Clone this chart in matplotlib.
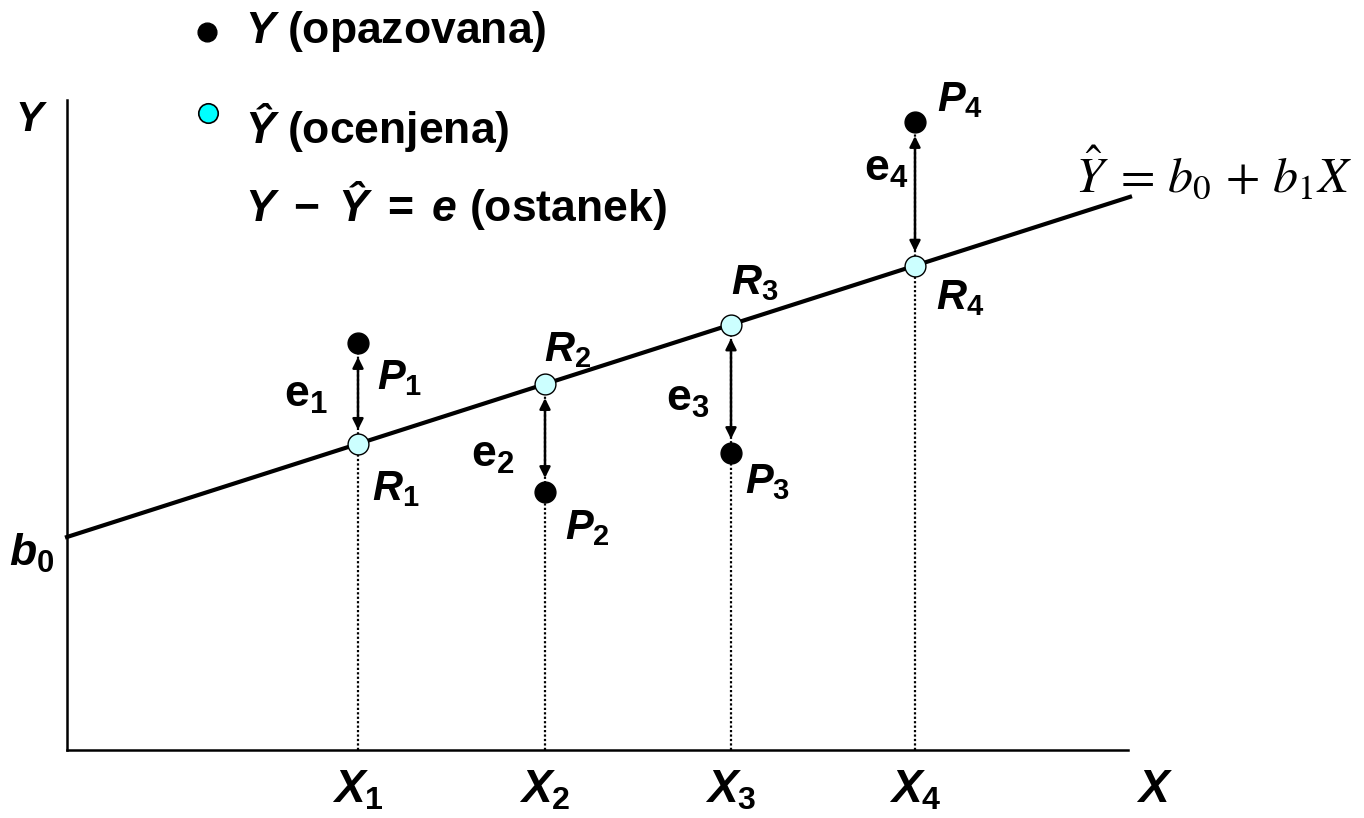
import numpy as np
import matplotlib
matplotlib.use('Agg')
import matplotlib.pyplot as plt

# regression line (chart units, origin at the axes corner)
b0 = 213
b1 = 0.32
line_x = [0, 1063]

# the four observations
X = np.array([291, 478, 664, 848])
Y_obs = np.array([407, 258, 297, 628])
Y_hat = b0 + b1 * X

x_names = ['$X_1$', '$X_2$', '$X_3$', '$X_4$']
p_names = ['$P_1$', '$P_2$', '$P_3$', '$P_4$']
r_names = ['$R_1$', '$R_2$', '$R_3$', '$R_4$']
e_names = [r'$\mathrm{e}_1$', r'$\mathrm{e}_2$', r'$\mathrm{e}_3$', r'$\mathrm{e}_4$']

# label placement (layout only)
p_pos = [(333, 372), (520, 222), (701, 268), (893, 650)]
r_pos = [(329, 261), (501, 400), (688, 467), (893, 452)]
e_pos = [(239, 355), (426, 295), (621, 350), (819, 580)]

plt.rcParams['font.family'] = ['Liberation Sans', 'DejaVu Sans']
plt.rcParams['mathtext.fontset'] = 'custom'
plt.rcParams['mathtext.rm'] = 'Liberation Sans:bold'
plt.rcParams['mathtext.bf'] = 'Liberation Sans:bold'
plt.rcParams['mathtext.it'] = 'Liberation Sans:italic:bold'

fig = plt.figure(figsize=(13.64, 8.18), dpi=100)
ax = fig.add_axes([67/1364, 68/818, 1061/1364, 650/818])
ax.set_xlim(0, 1061)
ax.set_ylim(0, 650)
ax.spines['top'].set_visible(False)
ax.spines['right'].set_visible(False)
ax.spines['left'].set_linewidth(1.8)
ax.spines['bottom'].set_linewidth(1.8)
ax.set_xticks([])
ax.set_yticks([])

lx = np.array(line_x)
ax.plot(lx, b0 + b1 * lx, color='black', lw=3, clip_on=False, zorder=3)

gap = 14
for i in range(4):
    top = max(Y_obs[i], Y_hat[i])
    ax.plot([X[i], X[i]], [0, top], color='black', lw=1.6, ls=(0, (1, 1)), zorder=1)
    lo, hi = sorted([Y_obs[i], Y_hat[i]])
    ax.annotate('', xy=(X[i], hi - gap), xytext=(X[i], lo + gap),
                arrowprops=dict(arrowstyle='<|-|>', color='black', lw=1.8,
                                mutation_scale=16, shrinkA=0, shrinkB=0), zorder=4)

ax.plot(X, Y_obs, 'o', ms=15, color='black', zorder=5)
ax.plot(X, Y_hat, 'o', ms=15, mfc='#ccffff', mec='black', mew=1.0, zorder=5)

for i in range(4):
    ax.text(*p_pos[i], p_names[i], fontsize=30, ha='center', va='center')
    ax.text(*r_pos[i], r_names[i], fontsize=30, ha='center', va='center')
    ax.text(*e_pos[i], e_names[i], fontsize=32, ha='center', va='center')
    ax.text(X[i], -40, x_names[i], fontsize=33, ha='center', va='center', clip_on=False)

ax.text(1088, -40, '$X$', fontsize=33, ha='center', va='center', clip_on=False)
ax.text(-36, 630, '$Y$', fontsize=30, ha='center', va='center', clip_on=False)
ax.text(-35, 197, '$b_0$', fontsize=32, ha='center', va='center', clip_on=False)

# key in the upper left
ax.plot([140], [718], 'o', ms=13.5, color='black', clip_on=False)
ax.plot([141], [637], 'o', ms=14, mfc='#00ffff', mec='black', mew=1.2, clip_on=False)
ax.text(178, 719, '$Y$ (opazovana)', fontsize=32, fontweight='bold', va='center', clip_on=False)
ax.text(178, 623, '$Ŷ$ (ocenjena)', fontsize=32, fontweight='bold', va='center', clip_on=False)
ax.text(178, 544, r'$Y\;-\;Ŷ\;=\;e$ (ostanek)', fontsize=32, fontweight='bold', va='center',
        clip_on=False)

ax.text(1008, 558, r'$\hat{Y}\;=\,b_0\, +\, b_1 X$', fontsize=36, math_fontfamily='stix',
        va='baseline', clip_on=False)

fig.savefig('out.png', dpi=100)
